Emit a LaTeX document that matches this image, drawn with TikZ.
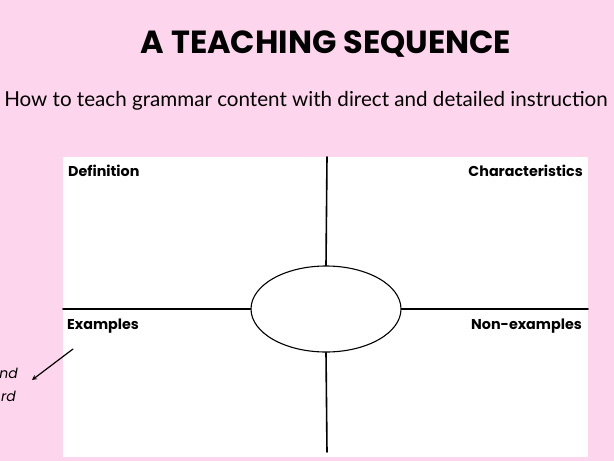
\documentclass[tikz,border=0pt]{standalone}
\usepackage{fontspec}
\setmainfont{Poppins}
\newfontfamily\subfont{Lato}
\usetikzlibrary{shapes.geometric}
\definecolor{bgpink}{RGB}{253,213,236}
\begin{document}
\begin{tikzpicture}[x=1pt,y=-1pt,line join=round,line cap=round,>=stealth,
  cell/.style={font=\fontsize{14.3}{16}\selectfont\bfseries,inner sep=0pt}]
            \fill[bgpink] (0,0) rectangle (614,461);
            \useasboundingbox (0,0) rectangle (614,461);
            \clip (0,0) rectangle (614,461);
            \node[font=\fontsize{32}{36}\selectfont\bfseries] (title) at (326,44) {A TEACHING SEQUENCE};
            \node[font=\subfont\fontsize{20.6}{24}\selectfont] (sub) at (306,101) {How to teach grammar content with direct and detailed instruction};
            \fill[white] (63,157) rectangle (588,457);
            \coordinate (top) at (327,157);
            \coordinate (bot) at (327,452);
            \coordinate (lft) at (63,309);
            \coordinate (rgt) at (588,309);
            \node[draw,line width=1.1pt,ellipse,fill=white,minimum width=150,minimum height=86,inner sep=0pt] (core) at (326,309) {};
            \draw[line width=1.6pt] (top)--(core.north) (core.south)--(bot);
            \draw[line width=1.6pt] (lft)--(core.west) (core.east)--(rgt);
            \node[cell,anchor=west] (def) at (68,171) {Definition};
            \node[cell,anchor=east] (cha) at (583,171) {Characteristics};
            \node[cell,anchor=west] (exa) at (67,326) {Examples};
            \node[cell,anchor=east] (non) at (582,326) {Non-examples};
            \node[font=\fontsize{14}{16}\selectfont\itshape,anchor=east,inner sep=0pt] (nd) at (18,373) {nd};
            \node[font=\fontsize{14}{16}\selectfont\itshape,anchor=east,inner sep=0pt] (rd) at (16,396) {rd};
            \coordinate (a1) at (73,349);
            \coordinate (a2) at (32,380);
            \draw[->,line width=1.2pt] (a1)--(a2);
        \end{tikzpicture}
\end{document}
